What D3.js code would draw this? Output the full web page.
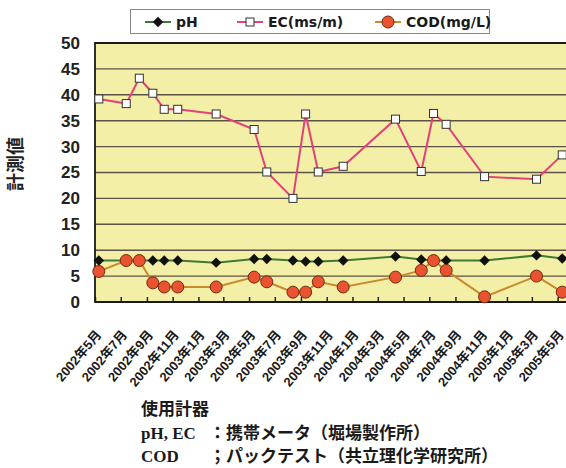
<!DOCTYPE html>
<html>
<head>
<meta charset="utf-8">
<script src="https://cdn.jsdelivr.net/npm/d3@7"></script>
<style>
  body { margin: 0; background: #fff; }
  svg { display: block; }
</style>
</head>
<body>
<div id="chart"></div>
<script>
"use strict"

const width = 566,
  height = 468,
  margin = { top: 43, left: 95, bottom: 166 };

// sampling dates
const sampleDates = [
  "2002-05-10", "2002-07-14", "2002-08-14", "2002-09-15", "2002-10-12",
  "2002-11-13", "2003-02-12", "2003-05-13", "2003-06-12", "2003-08-13",
  "2003-09-12", "2003-10-12", "2003-12-10", "2004-04-12", "2004-06-12",
  "2004-07-11", "2004-08-10", "2004-11-09", "2005-03-12", "2005-05-12"
];
const phValues = [8.0, 8.0, 8.0, 8.0, 8.0, 8.0, 7.6, 8.3, 8.3, 8.0,
  7.8, 7.8, 8.0, 8.8, 8.2, 8.0, 8.0, 8.0, 9.0, 8.4];
const ecValues = [39.2, 38.3, 43.2, 40.3, 37.2, 37.2, 36.3, 33.3, 25.1, 20.0,
  36.3, 25.1, 26.2, 35.3, 25.2, 36.4, 34.3, 24.2, 23.7, 28.4];
const codValues = [5.9, 8.0, 8.0, 3.7, 2.9, 2.9, 2.9, 4.8, 3.9, 1.9,
  1.9, 3.9, 2.9, 4.8, 6.1, 8.0, 6.1, 1.0, 5.0, 1.9];

const tickDates = [
  "2002-05", "2002-07", "2002-09", "2002-11", "2003-01", "2003-03", "2003-05",
  "2003-07", "2003-09", "2003-11", "2004-01", "2004-03", "2004-05", "2004-07",
  "2004-09", "2004-11", "2005-01", "2005-03", "2005-05"
];
const tickLabels = [
  "2002年5月", "2002年7月", "2002年9月", "2002年11月", "2003年1月", "2003年3月",
  "2003年5月", "2003年7月", "2003年9月", "2003年11月", "2004年1月", "2004年3月",
  "2004年5月", "2004年7月", "2004年9月", "2004年11月", "2005年1月", "2005年3月",
  "2005年5月"
];
const yTicks = [0, 5, 10, 15, 20, 25, 30, 35, 40, 45, 50];

const legendNames = ["pH", "EC(ms/m)", "COD(mg/L)"];
const noteLines = [
  ["使用計器", ""],
  ["pH, EC", "：携帯メータ（堀場製作所）"],
  ["COD", "；パックテスト（共立理化学研究所）"]
];

const parseDay = d3.timeParse("%Y-%m-%d");
const parseMonth = d3.timeParse("%Y-%m");

const rows = sampleDates.map((d, i) => ({
  date: parseDay(d), ph: phValues[i], ec: ecValues[i], cod: codValues[i]
}));

const svg = d3.select("#chart")
  .append("svg")
  .attr("width", width)
  .attr("height", height);

const x = d3.scaleTime()
  .domain([parseMonth("2002-05"), parseMonth("2005-05")])
  .range([margin.left, 557.6]);

const y = d3.scaleLinear()
  .domain([0, 50])
  .range([height - margin.bottom, margin.top]);

const plotRight = 620;

// plot background
svg.append("rect")
  .attr("x", margin.left)
  .attr("y", y(50))
  .attr("width", plotRight - margin.left)
  .attr("height", y(0) - y(50))
  .attr("fill", "#f3efa6");

// gridlines
svg.append("g")
  .selectAll("line")
  .data(yTicks.filter(v => v > 0 && v < 50))
  .join("line")
    .attr("x1", margin.left)
    .attr("x2", plotRight)
    .attr("y1", d => y(d))
    .attr("y2", d => y(d))
    .attr("stroke", "#5b5346")
    .attr("stroke-width", 1.4);

// y axis labels
const yAxis = svg.append("g")
  .attr("transform", `translate(${margin.left},0)`)
  .call(d3.axisLeft(y).tickValues(yTicks).tickSize(0).tickPadding(15));
yAxis.select(".domain").remove();
yAxis.selectAll("text")
  .attr("font-family", "'Liberation Sans', Arial, sans-serif")
  .attr("font-weight", "bold")
  .attr("font-size", 17)
  .attr("fill", "#222");

// x axis, ticks pointing inward
const xAxis = svg.append("g")
  .attr("transform", `translate(0,${y(0)})`)
  .call(d3.axisBottom(x)
    .tickValues(tickDates.map(parseMonth))
    .tickFormat((d, i) => tickLabels[i])
    .tickSizeInner(-5)
    .tickSizeOuter(0));
xAxis.select(".domain").remove();
xAxis.selectAll(".tick line").attr("stroke", "#222").attr("stroke-width", 1.5);
xAxis.selectAll("text")
  .attr("font-family", "'Liberation Sans', 'Noto Sans CJK JP', sans-serif")
  .attr("font-weight", "bold")
  .attr("font-size", 13)
  .attr("fill", "#1a1a1a")
  .attr("text-anchor", "end")
  .attr("y", 0)
  .attr("dy", "0.35em")
  .attr("transform", "translate(3,30) rotate(-50)");

// plot border (left, top, bottom)
svg.append("path")
  .attr("d", `M${plotRight},${y(50)}H${margin.left}V${y(0)}H${plotRight}`)
  .attr("fill", "none")
  .attr("stroke", "#1a1a1a")
  .attr("stroke-width", 1.8);

// y axis title
svg.append("text")
  .attr("transform", "translate(16,164) rotate(-90)")
  .attr("text-anchor", "middle")
  .attr("dy", "0.35em")
  .attr("font-family", "'Noto Sans CJK JP', sans-serif")
  .attr("font-weight", "bold")
  .attr("font-size", 18)
  .attr("fill", "#222")
  .text("計測値");

// series
const ecColor = "#e2417c",
  phColor = "#3d7a33",
  codColor = "#c98a2c";

const lineOf = key => d3.line()
  .x(d => x(d.date))
  .y(d => y(d[key]));

const series = svg.append("g");

series.append("path")
  .datum(rows)
  .attr("d", lineOf("ec"))
  .attr("fill", "none")
  .attr("stroke", ecColor)
  .attr("stroke-width", 2);

series.selectAll(".ec-pt")
  .data(rows)
  .join("rect")
    .attr("class", "ec-pt")
    .attr("x", d => x(d.date) - 4)
    .attr("y", d => y(d.ec) - 4)
    .attr("width", 8)
    .attr("height", 8)
    .attr("fill", "#fff")
    .attr("stroke", "#333")
    .attr("stroke-width", 1);

series.append("path")
  .datum(rows)
  .attr("d", lineOf("ph"))
  .attr("fill", "none")
  .attr("stroke", phColor)
  .attr("stroke-width", 2);

const diamond = d3.symbol().type(d3.symbolDiamond2).size(70);

series.selectAll(".ph-pt")
  .data(rows)
  .join("path")
    .attr("class", "ph-pt")
    .attr("d", diamond)
    .attr("transform", d => `translate(${x(d.date)},${y(d.ph)})`)
    .attr("fill", "#111");

series.append("path")
  .datum(rows)
  .attr("d", lineOf("cod"))
  .attr("fill", "none")
  .attr("stroke", codColor)
  .attr("stroke-width", 2);

series.selectAll(".cod-pt")
  .data(rows)
  .join("circle")
    .attr("class", "cod-pt")
    .attr("cx", d => x(d.date))
    .attr("cy", d => y(d.cod))
    .attr("r", 6)
    .attr("fill", "#ea5330")
    .attr("stroke", "#6e2a12")
    .attr("stroke-width", 1);

// legend
const legend = svg.append("g");
legend.append("rect")
  .attr("x", 130.5)
  .attr("y", 9.5)
  .attr("width", 359)
  .attr("height", 24)
  .attr("fill", "#fff")
  .attr("stroke", "#888")
  .attr("stroke-width", 1);

const legendX = [145, 237, 375];
const legendColors = [phColor, ecColor, codColor];
const legendItem = legend.selectAll(".item")
  .data(legendNames)
  .join("g")
    .attr("class", "item")
    .attr("transform", (d, i) => `translate(${legendX[i]},22)`);

legendItem.append("line")
  .attr("x1", 0).attr("x2", 26)
  .attr("stroke", (d, i) => legendColors[i])
  .attr("stroke-width", 2);

legendItem.filter((d, i) => i === 0).append("path")
  .attr("d", diamond)
  .attr("transform", "translate(13,0)")
  .attr("fill", "#111");
legendItem.filter((d, i) => i === 1).append("rect")
  .attr("x", 9).attr("y", -4).attr("width", 8).attr("height", 8)
  .attr("fill", "#fff").attr("stroke", "#333");
legendItem.filter((d, i) => i === 2).append("circle")
  .attr("cx", 13).attr("r", 6)
  .attr("fill", "#ea5330").attr("stroke", "#6e2a12");

legendItem.append("text")
  .attr("x", 31)
  .attr("dy", "0.35em")
  .attr("font-family", "'DejaVu Sans', sans-serif")
  .attr("font-weight", "bold")
  .attr("font-size", 14)
  .attr("fill", "#1a1a1a")
  .text(d => d);

// instrument notes
const notes = svg.append("g")
  .attr("font-weight", "bold")
  .attr("font-size", 17)
  .attr("fill", "#1a1a1a");

noteLines.forEach((ln, i) => {
  const by = 415 + i * 23.5;
  notes.append("text")
    .attr("x", 141)
    .attr("y", by)
    .attr("font-family", "'Liberation Serif', 'Noto Sans CJK JP', serif")
    .text(ln[0]);
  if (ln[1]) {
    notes.append("text")
      .attr("x", 209)
      .attr("y", by)
      .attr("font-family", "'Noto Sans CJK JP', sans-serif")
      .text(ln[1]);
  }
});
</script>
</body>
</html>
